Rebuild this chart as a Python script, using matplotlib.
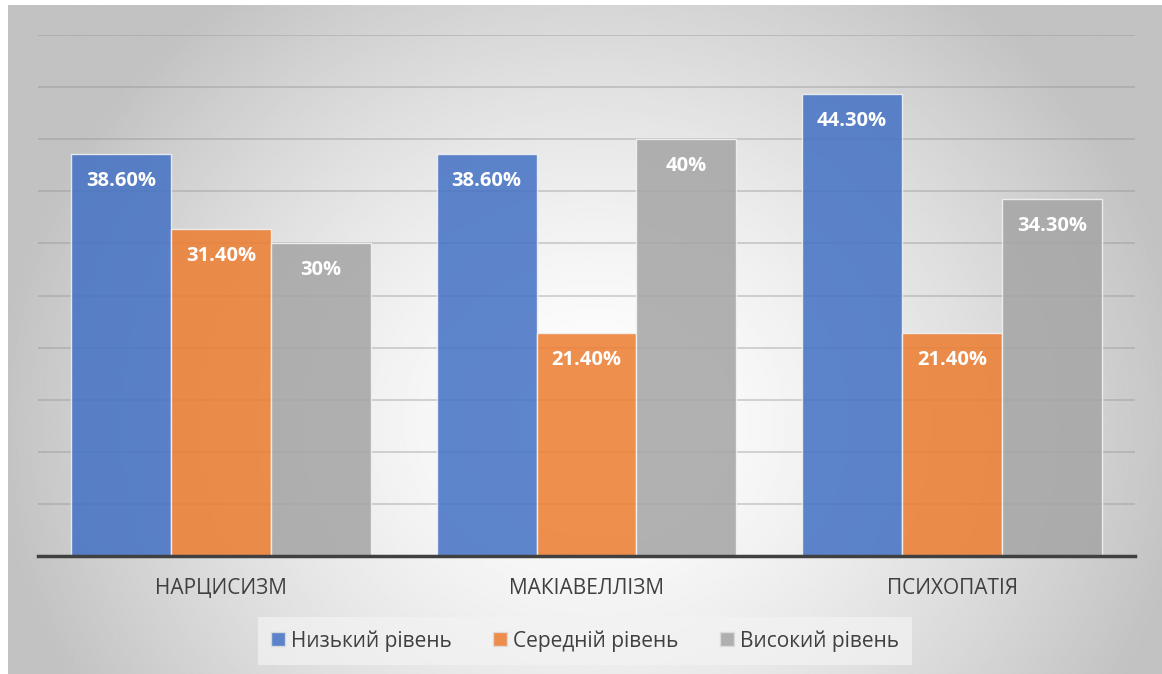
import matplotlib
matplotlib.use("Agg")
import matplotlib.pyplot as plt
from matplotlib.patches import Patch
import numpy as np

plt.rcParams['font.family'] = ['Open Sans', 'DejaVu Sans']

categories = ["НАРЦИСИЗМ", "МАКІАВЕЛЛІЗМ", "ПСИХОПАТІЯ"]
series = ["Низький рівень", "Середній рівень", "Високий рівень"]
low = [38.6, 38.6, 44.3]
mid = [31.4, 21.4, 21.4]
high = [30.0, 40.0, 34.3]
labels_low = ["38.60%", "38.60%", "44.30%"]
labels_mid = ["31.40%", "21.40%", "21.40%"]
labels_high = ["30%", "40%", "34.30%"]
colors = ["#4472C4", "#ED7D31", "#A5A5A5"]

W, H = 1162, 674
fig = plt.figure(figsize=(W / 100, H / 100), dpi=100)
fig.patch.set_facecolor("white")

# фон с радиальным градиентом
bg = fig.add_axes([8 / W, 0, 1 - 8 / W, 1 - 5 / H])
yy, xx = np.mgrid[0:H, 0:W]
r = np.sqrt(((xx - 590) / 620.0) ** 2 + ((yy - 420) / 560.0) ** 2)
val = np.clip(1.0 - 0.25 * r ** 1.5, 0.76, 1.0)
bg.imshow(val, cmap="gray", vmin=0, vmax=1, aspect="auto", interpolation="bilinear")
bg.set_axis_off()

ax = fig.add_axes([38 / W, 118 / H, 1097 / W, (556 - 35) / H])
ax.set_facecolor("none")

x = np.arange(len(categories))
w = 100 / 365.67
data = [low, mid, high]
texts = [labels_low, labels_mid, labels_high]
for i in range(3):
    bars = ax.bar(x + (i - 1) * w, data[i], width=w, color=colors[i], alpha=0.86,
                  edgecolor="#f4f4f4", linewidth=1.0, zorder=3, label=series[i])
    for b, t in zip(bars, texts[i]):
        ax.annotate(t, (b.get_x() + b.get_width() / 2, b.get_height()),
                    xytext=(0, -19.5), textcoords="offset points",
                    ha="center", va="center", color="white",
                    fontsize=14.5, fontweight="bold", zorder=5)

ax.set_xlim(-0.5, 2.5)
ax.set_ylim(0, 50)
ax.set_yticks(np.arange(0, 51, 5))
ax.yaxis.grid(True, color="#909090", alpha=0.4, linewidth=1.3, zorder=2)
ax.set_axisbelow(True)
ax.tick_params(axis="y", left=False, labelleft=False)
ax.tick_params(axis="x", bottom=False, pad=12)
ax.set_xticks(x)
ax.set_xticklabels(categories, fontsize=15, color="#404040")
for s in ["top", "right", "left"]:
    ax.spines[s].set_visible(False)
ax.spines["bottom"].set_color("#404040")
ax.spines["bottom"].set_linewidth(2.5)
ax.spines["bottom"].set_zorder(6)

handles = [Patch(facecolor=c, edgecolor="#dddddd", alpha=0.86) for c in colors]
leg = fig.legend(handles, series, loc="center", bbox_to_anchor=(585 / W, 1 - 641 / H),
                 ncol=3, frameon=True, fontsize=15, handlelength=0.65, handleheight=0.65,
                 handletextpad=0.3, columnspacing=2.0, borderpad=0.65, fancybox=False)
leg.get_frame().set_facecolor("#f3f3f3")
leg.get_frame().set_alpha(0.7)
leg.get_frame().set_edgecolor("none")
for t in leg.get_texts():
    t.set_color("#404040")

fig.savefig("out.png", dpi=100)
